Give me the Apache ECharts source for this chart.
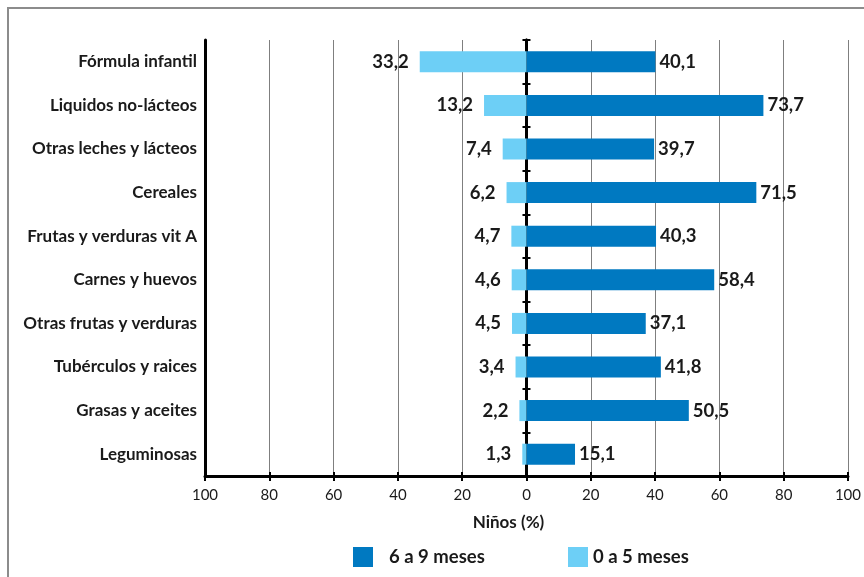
<!DOCTYPE html>
<html>
<head>
<meta charset="utf-8">
<script src="https://cdn.jsdelivr.net/npm/echarts@6/dist/echarts.min.js"></script>
<style>
  html, body { margin: 0; padding: 0; background: #fff; }
  #chart { width: 864px; height: 577px; }
</style>
</head>
<body>
<div id="chart"></div>
<script>
// Food groups (top to bottom)
const categories = [
  'Fórmula infantil',
  'Liquidos no-lácteos',
  'Otras leches y lácteos',
  'Cereales',
  'Frutas y verduras vit A',
  'Carnes y huevos',
  'Otras frutas y verduras',
  'Tubérculos y raices',
  'Grasas y aceites',
  'Leguminosas'
];
// Percentage of children consuming each group, by age
const older = [40.1, 73.7, 39.7, 71.5, 40.3, 58.4, 37.1, 41.8, 50.5, 15.1];   // 6 a 9 meses
const younger = [33.2, 13.2, 7.4, 6.2, 4.7, 4.6, 4.5, 3.4, 2.2, 1.3];         // 0 a 5 meses
const seriesNames = ['6 a 9 meses', '0 a 5 meses'];
const axisTitle = 'Niños (%)';

const FONT = 'Lato, "Open Sans", sans-serif';
const TEXT = '#1a1a1a';
const fmt = v => Math.abs(v).toFixed(1).replace('.', ',');

const chart = echarts.init(document.getElementById('chart'), null, { renderer: 'canvas' });

const labelStyle = {
  show: true,
  fontFamily: FONT,
  fontWeight: 'bold',
  fontSize: 18.5,
  color: TEXT
};

const legendBase = {
  top: 547,
  padding: 0,
  itemWidth: 20,
  itemHeight: 20,
  icon: 'rect'
};

chart.setOption({
  animation: false,
  textStyle: { fontFamily: FONT },
  graphic: [{
    type: 'rect',
    shape: { x: 8, y: 8, width: 880, height: 600 },
    style: { fill: 'none', stroke: '#8c8c8c', lineWidth: 2 },
    silent: true,
    z: -10
  }],
  grid: { left: 205, right: 11, top: 40, bottom: 101 },
  legend: [
    Object.assign({}, legendBase, {
      left: 353,
      data: [seriesNames[0]],
      textStyle: { fontFamily: FONT, fontSize: 18.5, fontWeight: 'bold', color: TEXT, padding: [0, 0, 0, 11] }
    }),
    Object.assign({}, legendBase, {
      left: 568,
      data: [seriesNames[1]],
      textStyle: { fontFamily: FONT, fontSize: 18.5, fontWeight: 'bold', color: TEXT, padding: [0, 0, 0, 0] }
    })
  ],
  xAxis: [{
    type: 'value',
    min: -100,
    max: 100,
    interval: 20,
    position: 'bottom',
    name: axisTitle,
    nameLocation: 'middle',
    nameGap: 38,
    nameTextStyle: {
      fontFamily: FONT, fontWeight: 'bold', fontSize: 17, color: TEXT,
      padding: [0, 36, 0, 0]
    },
    axisLine: { show: true, onZero: false, lineStyle: { color: '#000', width: 3 } },
    axisTick: { show: true, length: 5, lineStyle: { color: '#000', width: 2 } },
    axisLabel: {
      formatter: v => String(Math.abs(v)),
      fontFamily: FONT, fontSize: 15, color: TEXT, margin: 12
    },
    splitLine: { show: true, lineStyle: { color: '#7f7f7f', width: 1 } }
  }, {
    type: 'value',
    min: -100,
    max: 100,
    interval: 20,
    position: 'bottom',
    axisLine: { show: false },
    axisTick: { show: true, inside: true, length: 4, lineStyle: { color: '#000', width: 2 } },
    axisLabel: { show: false },
    splitLine: { show: false }
  }],
  yAxis: [{
    type: 'category',
    data: categories,
    inverse: true,
    position: 'left',
    axisLine: { show: true, onZero: false, lineStyle: { color: '#000', width: 3 } },
    axisTick: { show: false },
    axisLabel: {
      fontFamily: FONT, fontWeight: 'bold', fontSize: 17, color: TEXT, margin: 8
    }
  }, {
    // axis line through zero with small boundary ticks
    type: 'category',
    data: categories,
    inverse: true,
    position: 'left',
    axisLine: { show: true, onZero: true, lineStyle: { color: '#000', width: 3 } },
    axisTick: { show: true, length: 4, lineStyle: { color: '#000', width: 2 } },
    axisLabel: { show: false }
  }, {
    type: 'category',
    data: categories,
    inverse: true,
    position: 'left',
    axisLine: { show: true, onZero: true, lineStyle: { color: '#000', width: 3 } },
    axisTick: { show: true, inside: true, length: 4, lineStyle: { color: '#000', width: 2 } },
    axisLabel: { show: false }
  }],
  series: [{
    name: seriesNames[0],
    type: 'bar',
    data: older,
    barWidth: 21,
    barGap: '-100%',
    itemStyle: { color: '#0079c1' },
    label: Object.assign({}, labelStyle, { position: 'right', distance: 4, formatter: p => fmt(p.value) }),
    z: 3
  }, {
    name: seriesNames[1],
    type: 'bar',
    data: younger.map(v => -v),
    barWidth: 21,
    barGap: '-100%',
    itemStyle: { color: '#6dcff6' },
    label: Object.assign({}, labelStyle, { position: 'left', distance: 11, formatter: p => fmt(p.value) }),
    z: 3
  }]
});
</script>
</body>
</html>
